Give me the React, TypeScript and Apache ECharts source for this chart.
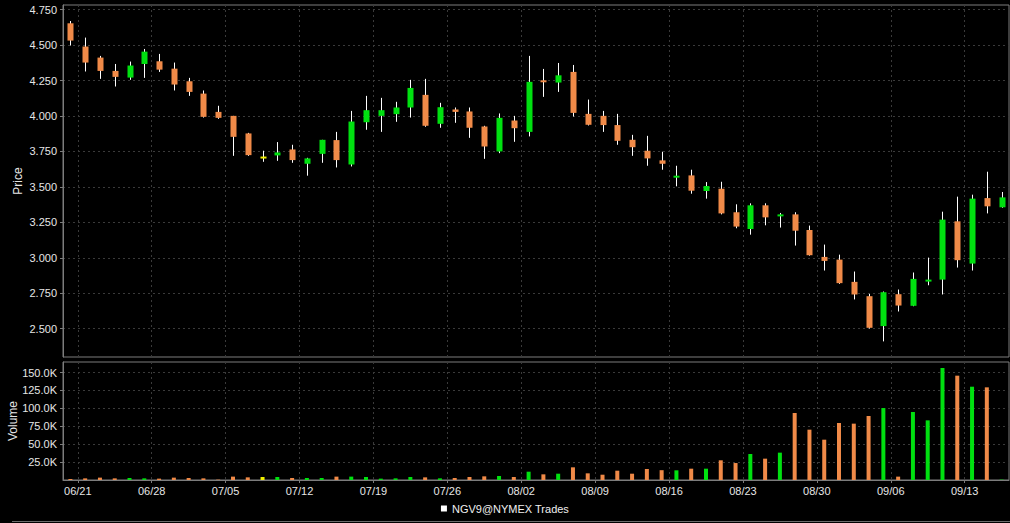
import React, { useEffect, useRef } from "react";
import * as echarts from "echarts";

const dates = [
  "2009-06-19",
  "2009-06-22", "2009-06-23", "2009-06-24", "2009-06-25", "2009-06-26",
  "2009-06-29", "2009-06-30", "2009-07-01", "2009-07-02", "2009-07-03",
  "2009-07-06", "2009-07-07", "2009-07-08", "2009-07-09", "2009-07-10",
  "2009-07-13", "2009-07-14", "2009-07-15", "2009-07-16", "2009-07-17",
  "2009-07-20", "2009-07-21", "2009-07-22", "2009-07-23", "2009-07-24",
  "2009-07-27", "2009-07-28", "2009-07-29", "2009-07-30", "2009-07-31",
  "2009-08-03", "2009-08-04", "2009-08-05", "2009-08-06", "2009-08-07",
  "2009-08-10", "2009-08-11", "2009-08-12", "2009-08-13", "2009-08-14",
  "2009-08-17", "2009-08-18", "2009-08-19", "2009-08-20", "2009-08-21",
  "2009-08-24", "2009-08-25", "2009-08-26", "2009-08-27", "2009-08-28",
  "2009-08-31", "2009-09-01", "2009-09-02", "2009-09-03", "2009-09-04",
  "2009-09-07", "2009-09-08", "2009-09-09", "2009-09-10", "2009-09-11",
  "2009-09-14", "2009-09-15", "2009-09-16",
];

const openPrices = [
  4.654, 4.49, 4.412, 4.318, 4.271, 4.367, 4.386, 4.334, 4.245, 4.158,
  4.029, 4.001, 3.877, 3.714, 3.722, 3.764, 3.663, 3.733, 3.83, 3.658,
  3.956, 4.001, 4.013, 4.06, 4.149, 3.945, 4.046, 4.032, 3.926, 3.75,
  3.968, 3.888, 4.252, 4.236, 4.311, 4.015, 4.001, 3.936, 3.832, 3.755,
  3.687, 3.565, 3.581, 3.471, 3.487, 3.321, 3.203, 3.37, 3.292, 3.306,
  3.196, 3.006, 2.987, 2.83, 2.729, 2.518, 2.743, 2.661, 2.835, 2.846,
  3.257, 2.959, 3.421, 3.356,
];

const closePrices = [
  4.532, 4.377, 4.318, 4.276, 4.356, 4.454, 4.327, 4.222, 4.17, 3.994,
  3.987, 3.853, 3.724, 3.714, 3.743, 3.689, 3.701, 3.832, 3.689, 3.961,
  4.041, 4.041, 4.06, 4.198, 3.931, 4.062, 4.029, 3.917, 3.785, 3.987,
  3.914, 4.241, 4.238, 4.287, 4.022, 3.938, 3.936, 3.825, 3.78, 3.701,
  3.663, 3.579, 3.473, 3.506, 3.313, 3.22, 3.37, 3.285, 3.306, 3.191,
  3.018, 2.978, 2.821, 2.741, 2.506, 2.757, 2.663, 2.851, 2.846, 3.269,
  2.983, 3.417, 3.363, 3.426,
];

const lowPrices = [
  4.497, 4.314, 4.262, 4.208, 4.255, 4.269, 4.311, 4.18, 4.142, 3.989,
  3.98, 3.719, 3.719, 3.677, 3.684, 3.67, 3.579, 3.67, 3.637, 3.644,
  3.903, 3.888, 3.959, 3.989, 3.924, 3.917, 3.952, 3.846, 3.698, 3.738,
  3.818, 3.856, 4.135, 4.17, 3.996, 3.933, 3.888, 3.797, 3.719, 3.649,
  3.621, 3.504, 3.452, 3.417, 3.306, 3.208, 3.163, 3.229, 3.213, 3.086,
  3.015, 2.91, 2.816, 2.706, 2.501, 2.41, 2.621, 2.658, 2.806, 2.741,
  2.931, 2.91, 3.313, 3.353,
];

const highPrices = [
  4.67, 4.553, 4.424, 4.367, 4.384, 4.473, 4.438, 4.377, 4.269, 4.18,
  4.072, 4.001, 3.881, 3.755, 3.816, 3.797, 3.705, 3.832, 3.888, 4.036,
  4.142, 4.128, 4.1, 4.255, 4.262, 4.093, 4.06, 4.06, 3.931, 4.018,
  4.001, 4.424, 4.332, 4.374, 4.36, 4.116, 4.036, 4.015, 3.867, 3.86,
  3.748, 3.649, 3.621, 3.534, 3.536, 3.377, 3.384, 3.384, 3.316, 3.321,
  3.227, 3.093, 3.022, 2.903, 2.745, 2.762, 2.776, 2.896, 3.001, 3.325,
  3.431, 3.445, 3.607, 3.464,
];

const volumes = [
  1400, 2300, 3300, 2300, 2800, 2300, 1900, 3300, 2800, 2300,
  500, 4700, 3700, 4200, 4200, 2800, 2800, 2800, 4700, 4700,
  4200, 1900, 2300, 4200, 3700, 2300, 2800, 4200, 5100, 5600,
  4200, 11600, 7900, 8800, 17700, 9300, 7400, 13000, 8800, 15400,
  13700, 13500, 15800, 15800, 27500, 23700, 36300, 29800, 38200, 93600,
  70300, 56300, 79600, 78700, 89400, 100500, 4700, 95000, 83300, 156400,
  145700, 130300, 129400, 500,
];

const weekLabelDates = [
  "2009-06-21", "2009-06-28", "2009-07-05", "2009-07-12", "2009-07-19",
  "2009-07-26", "2009-08-02", "2009-08-09", "2009-08-16", "2009-08-23",
  "2009-08-30", "2009-09-06", "2009-09-13",
];

const priceTicks = [2.5, 2.75, 3.0, 3.25, 3.5, 3.75, 4.0, 4.25, 4.5, 4.75];
const volumeTicks = [25000, 50000, 75000, 100000, 125000, 150000];

const SERIES_NAME = "NGV9@NYMEX Trades";
const UP = "#00e010";
const DOWN = "#f08a48";
const FLAT = "#f0f000";
const FONT = "Liberation Sans, Arial, sans-serif";
const TEXT = "#e6e6e6";
const GRIDLINE = "#3a3a3a";
const FRAME = "#7c7c7c";

function colorOf(i: number) {
  const o = openPrices[i];
  const c = closePrices[i];
  return c > o ? UP : c < o ? DOWN : FLAT;
}

export default function App() {
  const ref = useRef<HTMLDivElement>(null);

  useEffect(() => {
    if (!ref.current) return;
    const chart = echarts.init(ref.current, undefined, { renderer: "svg" });

    const cats = dates.map((d) => d.slice(5).replace("-", "/"));
    const boundaries: string[] = [];
    for (let k = 0; k <= dates.length; k++) boundaries.push("");
    weekLabelDates.forEach((d) => {
      let idx = -1;
      dates.forEach((t, i) => {
        if (t < d) idx = i;
      });
      boundaries[idx + 1] = d.slice(5).replace("-", "/");
    });
    const hasLabel = (index: number, value: string) => value !== "";

    const candleData = dates.map((_, i) => [
      i,
      openPrices[i],
      closePrices[i],
      lowPrices[i],
      highPrices[i],
    ]);
    const volData = volumes.map((v, i) => ({
      value: v,
      itemStyle: { color: colorOf(i) },
    }));

    const gridLineStyle = { color: GRIDLINE, type: [2, 3] as any, width: 1 };
    const splitLine = { show: true, lineStyle: gridLineStyle };

    const boundaryAxis = (gridIndex: number, showLabels: boolean) => ({
      type: "category",
      gridIndex,
      position: "bottom",
      data: boundaries,
      boundaryGap: false,
      axisLine: { show: showLabels, lineStyle: { color: FRAME } },
      axisTick: {
        show: showLabels,
        length: 3,
        interval: hasLabel,
        lineStyle: { color: FRAME },
      },
      axisLabel: {
        show: showLabels,
        interval: hasLabel,
        color: TEXT,
        fontSize: 11,
        fontFamily: FONT,
        margin: 5,
      },
      splitLine: { show: true, interval: hasLabel, lineStyle: gridLineStyle },
    });

    const gridBase = {
      left: 63,
      right: 1,
      show: true,
      borderColor: FRAME,
      borderWidth: 1,
      backgroundColor: "#000",
      containLabel: false,
      outerBoundsMode: "none",
    };

    const option: any = {
      animation: false,
      backgroundColor: "#000",
      textStyle: { fontFamily: FONT },
      grid: [
        { ...gridBase, top: 5, height: 352 },
        { ...gridBase, top: 362, height: 118 },
      ],
      legend: {
        data: [{ name: SERIES_NAME, icon: "rect", itemStyle: { color: "#fff" } }],
        top: 498,
        left: "center",
        itemWidth: 6,
        itemHeight: 6,
        itemGap: 4,
        textStyle: { color: "#f0f0f0", fontSize: 11, fontFamily: FONT },
        selectedMode: false,
      },
      xAxis: [
        {
          type: "category",
          gridIndex: 0,
          position: "bottom",
          data: cats,
          boundaryGap: true,
          show: false,
        },
        {
          type: "category",
          gridIndex: 1,
          position: "bottom",
          data: cats,
          boundaryGap: true,
          show: false,
        },
        boundaryAxis(0, false),
        boundaryAxis(1, true),
      ],
      yAxis: [
        {
          type: "value",
          gridIndex: 0,
          min: 2.3,
          max: 4.783,
          name: "Price",
          nameLocation: "middle",
          nameRotate: 90,
          nameGap: 39,
          nameMoveOverlap: false,
          nameTextStyle: { color: TEXT, fontSize: 12, fontFamily: FONT },
          axisLine: { show: true, lineStyle: { color: FRAME } },
          axisTick: {
            show: true,
            length: 3,
            customValues: priceTicks,
            lineStyle: { color: FRAME },
          },
          axisLabel: {
            customValues: priceTicks,
            color: TEXT,
            fontSize: 11,
            fontFamily: FONT,
            margin: 6,
            formatter: (v: number) => v.toFixed(3),
          },
          splitLine,
        },
        {
          type: "value",
          gridIndex: 1,
          min: 0,
          max: 164800,
          name: "Volume",
          nameLocation: "middle",
          nameRotate: 90,
          nameGap: 44,
          nameMoveOverlap: false,
          nameTextStyle: { color: TEXT, fontSize: 12, fontFamily: FONT },
          axisLine: { show: true, lineStyle: { color: FRAME } },
          axisTick: {
            show: true,
            length: 3,
            customValues: volumeTicks,
            lineStyle: { color: FRAME },
          },
          axisLabel: {
            customValues: volumeTicks,
            color: TEXT,
            fontSize: 11,
            fontFamily: FONT,
            margin: 6,
            formatter: (v: number) => (v / 1000).toFixed(1) + "K",
          },
          splitLine,
        },
      ],
      series: [
        {
          name: SERIES_NAME,
          type: "custom",
          xAxisIndex: 0,
          yAxisIndex: 0,
          data: candleData,
          encode: { x: 0, y: [1, 2, 3, 4] },
          renderItem: (params: any, api: any) => {
            const i = api.value(0);
            const o = api.value(1);
            const c = api.value(2);
            const l = api.value(3);
            const h = api.value(4);
            const pO = api.coord([i, o]);
            const pC = api.coord([i, c]);
            const pL = api.coord([i, l]);
            const pH = api.coord([i, h]);
            const x = Math.round(pO[0]);
            const w = 6;
            const top = Math.min(pO[1], pC[1]);
            const bh = Math.max(Math.abs(pO[1] - pC[1]), 2);
            const color = c > o ? UP : c < o ? DOWN : FLAT;
            return {
              type: "group",
              children: [
                {
                  type: "line",
                  shape: { x1: x + 0.5, y1: pH[1], x2: x + 0.5, y2: pL[1] },
                  style: { stroke: "#ffffff", lineWidth: 1 },
                },
                {
                  type: "rect",
                  shape: { x: x - w / 2 + 0.5, y: top, width: w, height: bh },
                  style: { fill: color },
                },
              ],
            };
          },
        },
        {
          name: "Volume",
          type: "bar",
          xAxisIndex: 1,
          yAxisIndex: 1,
          barWidth: 4,
          data: volData,
        },
      ],
      graphic: [
        {
          type: "line",
          shape: { x1: 12, y1: 521.5, x2: 1010, y2: 521.5 },
          style: { stroke: "#6a6a6a", lineWidth: 1 },
          silent: true,
        },
      ],
    };

    chart.setOption(option);
    return () => chart.dispose();
  }, []);

  return (
    <div
      ref={ref}
      style={{
        position: "fixed",
        left: 0,
        top: 0,
        width: 1010,
        height: 523,
        background: "#000",
      }}
    />
  );
}
